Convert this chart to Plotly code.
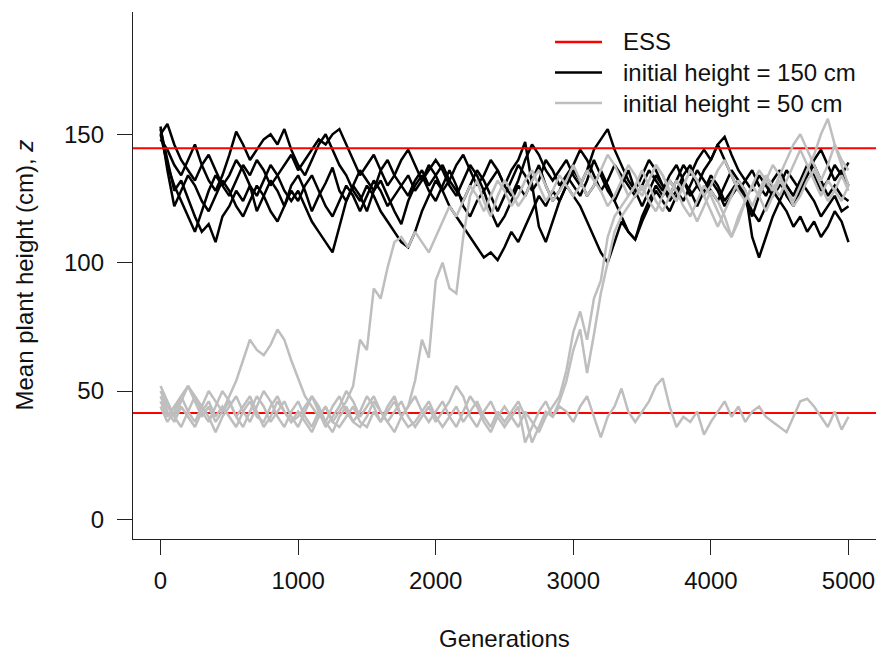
import plotly.graph_objects as go

# ---------------- data ----------------
generations = list(range(0, 5001, 50))

ess_values = [144.5, 41.5]

black_runs = {
    "B1": [152,140,128,132,125,118,112,115,108,118,
           122,128,124,130,120,126,132,128,122,130,
           134,128,120,126,131,137,128,124,130,126,
           120,128,132,126,120,115,124,130,134,128,
           124,130,136,130,122,118,124,128,120,114,
           118,124,130,126,132,138,130,124,128,134,
           130,126,132,140,134,128,124,130,136,128,
           122,128,134,130,124,128,134,138,130,126,
           132,128,122,126,130,124,118,126,132,128,
           124,120,114,118,112,116,110,114,120,116,
           108],
    "B2": [150,154,146,140,136,132,138,142,136,130,
           134,140,136,130,126,132,138,134,128,124,
           128,122,116,112,108,104,114,124,130,136,
           132,128,136,140,134,130,126,132,136,130,
           134,138,132,128,124,130,136,132,126,120,
           126,132,138,134,128,132,140,136,130,134,
           138,144,140,134,128,132,138,134,130,126,
           130,136,132,128,134,138,132,126,130,136,
           140,146,140,134,128,132,136,130,126,132,
           136,130,126,132,138,134,128,132,138,134,
           139],
    "B3": [148,144,138,134,140,146,138,132,128,134,
           142,151,146,140,144,148,150,146,152,144,
           138,134,140,146,150,144,138,134,128,124,
           130,126,120,116,112,108,106,112,120,126,
           132,128,122,118,114,110,106,102,104,101,
           106,112,108,114,120,126,122,128,124,130,
           126,122,116,110,104,100,108,116,112,109,
           118,124,130,126,132,128,124,130,136,132,
           128,124,130,136,132,128,110,102,110,118,
           124,130,126,132,128,124,118,122,126,120,
           122],
    "B4": [150,138,130,124,118,112,120,128,134,130,
           126,132,138,134,140,136,130,134,138,142,
           136,140,144,148,146,150,152,146,140,134,
           138,142,136,130,134,140,144,138,132,136,
           140,136,130,126,132,138,134,128,132,136,
           130,126,132,140,146,142,136,132,136,140,
           134,130,136,144,148,152,144,138,132,128,
           134,140,136,130,126,132,138,134,140,144,
           140,146,149,142,136,132,128,134,130,126,
           130,136,132,128,134,140,144,138,132,136,
           130],
    "B5": [153,136,122,128,134,130,124,120,126,132,
           128,122,118,124,130,126,120,116,122,128,
           124,130,134,128,122,118,124,130,126,120,
           126,132,128,122,126,130,134,128,132,138,
           134,128,132,138,142,136,130,134,140,136,
           130,136,140,147,130,114,108,116,124,130,
           136,132,126,130,136,130,124,118,112,109,
           116,122,128,124,120,126,132,128,122,128,
           134,130,124,128,132,126,120,116,122,128,
           132,126,122,128,134,138,132,126,130,126,
           124],
}

grey_runs = {
    "G1": [46,40,44,48,42,38,44,50,46,42,
           48,54,62,70,66,64,68,74,70,62,
           55,48,44,40,44,38,42,46,52,70,
           66,90,86,98,108,110,106,112,108,104,
           110,116,122,118,124,130,126,120,126,132,
           128,122,126,132,136,130,124,128,134,130,
           126,130,136,132,128,122,126,132,138,134,
           128,132,138,134,128,124,130,136,132,126,
           130,136,140,134,128,124,130,136,132,128,
           134,140,146,150,144,138,132,138,146,140,
           136],
    "G2": [44,38,42,48,52,46,40,44,38,42,
           46,40,36,42,48,44,38,42,46,40,
           36,42,48,44,38,34,40,44,38,42,
           48,44,38,42,46,40,44,54,70,63,
           93,100,90,88,110,126,132,124,118,126,
           132,128,122,126,132,136,130,124,128,132,
           138,132,126,130,136,142,138,132,126,130,
           136,130,124,120,126,132,128,122,116,122,
           128,124,118,110,116,124,130,126,132,138,
           134,128,124,130,136,142,150,156,146,138,
           130],
    "G3": [52,46,40,36,42,48,44,40,34,40,
           44,48,42,38,44,50,46,40,36,42,
           46,40,36,42,38,44,48,42,38,36,
           40,46,42,38,34,40,44,48,42,38,
           42,46,40,36,42,48,44,38,34,40,
           44,40,36,42,38,34,40,44,48,58,
           73,81,70,86,93,110,118,122,126,130,
           126,132,138,134,128,124,130,136,132,126,
           120,114,120,126,132,128,122,128,134,130,
           126,132,138,144,138,132,126,132,128,124,
           130],
    "G4": [48,42,38,44,40,36,42,46,40,44,
           40,36,42,46,40,38,44,48,42,38,
           42,38,34,40,44,38,36,40,44,38,
           36,42,38,44,48,40,36,38,42,46,
           40,36,40,44,38,42,46,40,36,42,
           38,42,46,40,30,36,42,40,46,54,
           66,74,57,72,88,100,112,118,122,126,
           130,124,120,126,132,128,122,118,124,130,
           126,120,114,110,118,124,130,126,120,126,
           132,128,122,126,132,136,130,124,128,134,
           128],
    "G5": [50,44,40,46,52,48,42,38,44,50,
           46,40,44,48,42,36,40,46,42,38,
           40,44,48,42,36,40,44,50,46,40,
           44,48,42,38,42,46,40,36,40,44,
           38,42,46,52,48,40,36,42,46,40,
           36,40,44,30,36,42,46,40,44,42,
           38,44,48,40,32,40,44,51,42,38,
           42,46,52,55,44,36,40,38,42,33,
           38,42,46,40,44,38,42,44,40,38,
           36,34,40,46,47,44,40,36,42,35,
           40],
}

x_ticks = [0, 1000, 2000, 3000, 4000, 5000]
y_ticks = [0, 50, 100, 150]
x_range = [-200, 5200]
y_range = [-7.6, 197.6]

legend_labels = ["ESS", "initial height = 150 cm", "initial height = 50 cm"]

# ---------------- styles ----------------
FONT = "Liberation Sans, Arial, sans-serif"
TXT = "#111111"
BLACK = "#000000"
GREY = "#BEBEBE"
RED = "#FF0000"
W, H = 878, 659
ML, MR, MT, MB = 133, 2, 12, 120
PW = W - ML - MR
PH = H - MT - MB

fig = go.Figure()

for name, vals in black_runs.items():
    fig.add_trace(go.Scatter(x=generations, y=vals, mode="lines",
                             line=dict(color=BLACK, width=2.5),
                             name=name, showlegend=False))

for v in ess_values:
    fig.add_trace(go.Scatter(x=x_range, y=[v, v], mode="lines",
                             line=dict(color=RED, width=2),
                             name="ESS", showlegend=False))

for name, vals in grey_runs.items():
    fig.add_trace(go.Scatter(x=generations, y=vals, mode="lines",
                             line=dict(color=GREY, width=2.5),
                             name=name, showlegend=False))

# ---------------- manual legend (R style, no box) ----------------
def px_x(p):
    return (p - ML) / PW

def px_y(p):
    return (MT + PH - p) / PH

legend_colors = [RED, BLACK, GREY]
legend_rows = [42, 72.5, 103]
shapes = []
annotations = []
for lab, col, ry in zip(legend_labels, legend_colors, legend_rows):
    shapes.append(dict(type="line", xref="paper", yref="paper",
                       x0=px_x(555), x1=px_x(602), y0=px_y(ry), y1=px_y(ry),
                       line=dict(color=col, width=2.5)))
    annotations.append(dict(text=lab, xref="paper", yref="paper",
                            x=px_x(621), y=px_y(ry), xanchor="left", yanchor="middle",
                            showarrow=False, font=dict(family=FONT, size=24, color=TXT)))

# axis titles
annotations.append(dict(text="Generations", xref="paper", yref="paper",
                        x=0.5, y=0, xanchor="center", yanchor="middle", yshift=-99,
                        showarrow=False, font=dict(family=FONT, size=24, color=TXT)))
annotations.append(dict(text="Mean plant height (cm), <i>z</i>", xref="paper", yref="paper",
                        x=0, y=0.5, xanchor="center", yanchor="middle", xshift=-109,
                        textangle=-90, showarrow=False,
                        font=dict(family=FONT, size=24, color=TXT)))

axis_common = dict(showgrid=False, zeroline=False, showline=True, linecolor="#222222",
                   linewidth=1.3, ticks="outside", ticklen=15, tickwidth=1.3,
                   tickcolor="#222222", tickfont=dict(family=FONT, size=24, color=TXT))

fig.update_layout(
    width=W, height=H,
    margin=dict(l=ML, r=MR, t=MT, b=MB, autoexpand=False),
    plot_bgcolor="white", paper_bgcolor="white",
    showlegend=False,
    shapes=shapes, annotations=annotations,
    xaxis=dict(range=x_range, tickvals=x_ticks, ticktext=[str(t) for t in x_ticks],
               ticklabelstandoff=5, **axis_common),
    yaxis=dict(range=y_range, tickvals=y_ticks, ticktext=[str(t) for t in y_ticks],
               ticklabelstandoff=8, **axis_common),
)

# remove the default 8 px page margin so the figure fills the window exactly
fig.write_html(
    "out.html",
    config={"displayModeBar": False},
    post_script="document.body.style.margin='0px';"
                "document.documentElement.style.overflow='hidden';"
                "document.body.style.overflow='hidden';",
)
